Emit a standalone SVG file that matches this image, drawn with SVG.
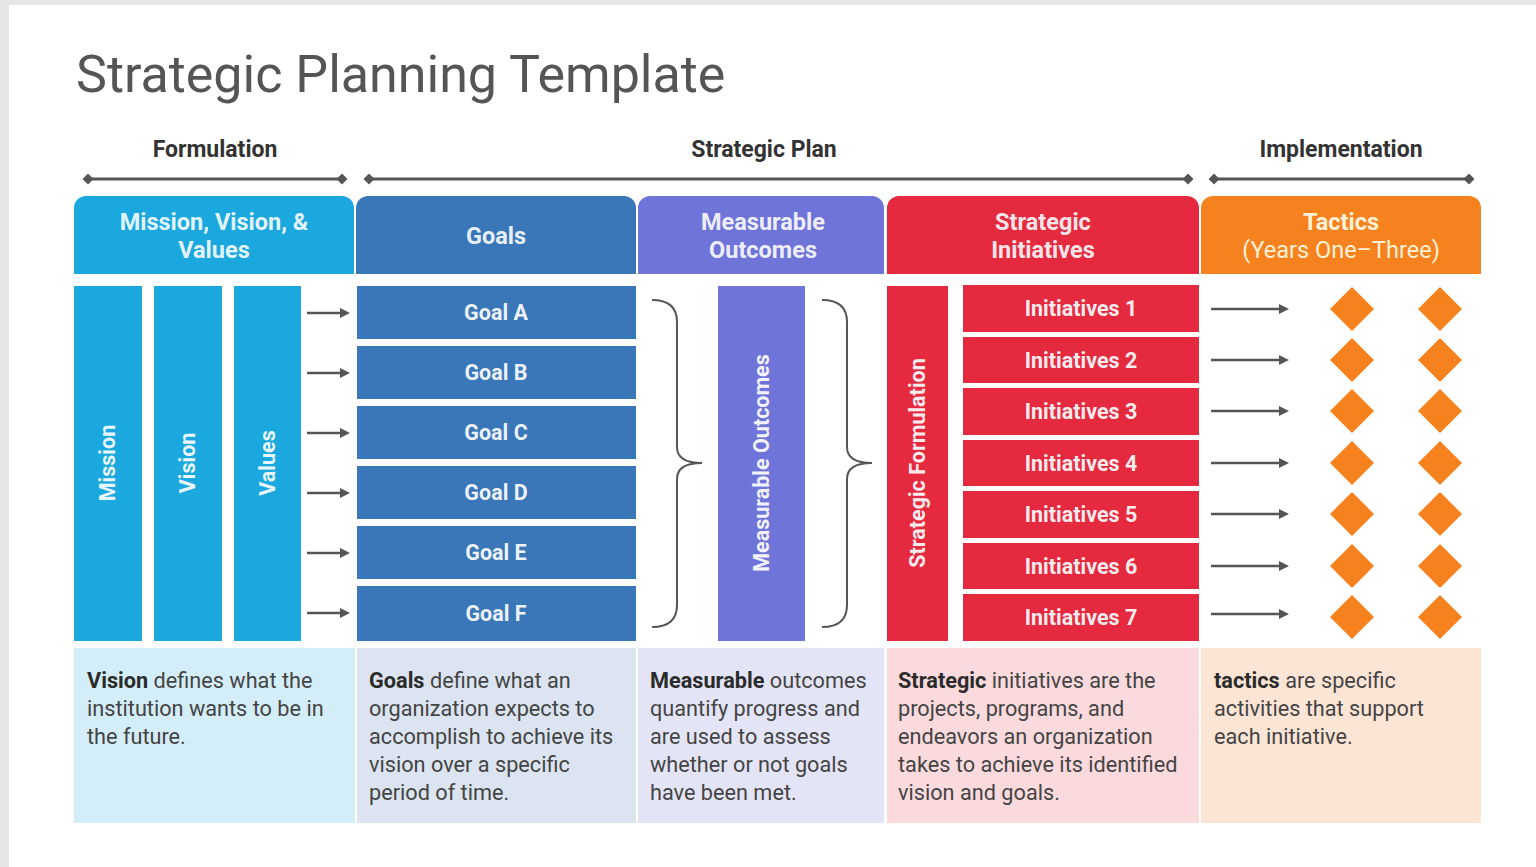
<svg xmlns="http://www.w3.org/2000/svg" width="1536" height="867" viewBox="0 0 1536 867">
  <style>
    .title { font-family: Roboto, "Liberation Sans", sans-serif; font-size: 52px; fill: #555555; }
    .phase { font-family: Roboto, "Liberation Sans", sans-serif; font-size: 23px; font-weight: bold; fill: #333333; text-anchor: middle; }
    .head { font-family: Roboto, "Liberation Sans", sans-serif; font-size: 23.5px; font-weight: bold; fill: #ffffff; fill-opacity: 0.9; text-anchor: middle; }
    .headr { font-family: Roboto, "Liberation Sans", sans-serif; font-size: 23.5px; fill: #fff1d6; text-anchor: middle; }
    .lbl { font-family: Roboto, "Liberation Sans", sans-serif; font-size: 21.5px; font-weight: bold; fill: #ffffff; fill-opacity: 0.92; text-anchor: middle; }
    .desc { font-family: Roboto, "Liberation Sans", sans-serif; font-size: 21.7px; fill: #444444; }
    .desc tspan.b { font-weight: bold; fill: #2b2b2b; }
    .span { stroke: #555555; stroke-width: 3; fill: none; }
    .arrow { stroke: #555555; stroke-width: 2.5; fill: none; marker-end: url(#ah); }
    .brace { stroke: #555555; stroke-width: 2; fill: none; }
    .blue { fill: #1ba8df; }
    .navy { fill: #3a77b8; }
    .violet { fill: #6f75d8; }
    .red { fill: #e52a40; }
    .orange { fill: #f5821f; }
  </style>
  <defs>
    <marker id="ah" viewBox="0 0 10 10" refX="2" refY="5" markerWidth="10" markerHeight="10" markerUnits="userSpaceOnUse" orient="auto">
      <path d="M0,0 L10,5 L0,10 Z" fill="#555555"/>
    </marker>
    <marker id="dot" viewBox="0 0 10 10" refX="5" refY="5" markerWidth="11" markerHeight="11" markerUnits="userSpaceOnUse">
      <path d="M5,0 L10,5 L5,10 L0,5 Z" fill="#555555"/>
    </marker>
    <path id="brace" class="brace" d="M652,300 Q677,300 677,322 L677,447 Q677,463 702,463 Q677,463 677,479 L677,605 Q677,627 652,627"/>
    <path id="dia" d="M0,-22 L22,0 L0,22 L-22,0 Z"/>
  </defs>

  <!-- page background and slide -->
  <rect width="1536" height="867" fill="#e6e6e6"/>
  <rect x="9" y="5" width="1527" height="862" fill="#ffffff"/>

  <text class="title" x="76" y="92">Strategic Planning Template</text>

  <!-- phase labels with span lines -->
  <g id="phases">
    <text class="phase" x="215" y="157">Formulation</text>
    <text class="phase" x="764" y="157">Strategic Plan</text>
    <text class="phase" x="1341" y="157">Implementation</text>
    <line class="span" x1="88" y1="179" x2="342" y2="179" marker-start="url(#dot)" marker-end="url(#dot)"/>
    <line class="span" x1="369" y1="179" x2="1188" y2="179" marker-start="url(#dot)" marker-end="url(#dot)"/>
    <line class="span" x1="1214" y1="179" x2="1469" y2="179" marker-start="url(#dot)" marker-end="url(#dot)"/>
  </g>

  <!-- column headers -->
  <g id="header-mvv">
    <path class="blue" d="M74,274 V208 A12,12 0 0 1 86,196 H342 A12,12 0 0 1 354,208 V274 Z"/>
    <text class="head" x="214" y="230">Mission, Vision, &amp;</text>
    <text class="head" x="214" y="258">Values</text>
  </g>
  <g id="header-goals">
    <path class="navy" d="M356,274 V208 A12,12 0 0 1 368,196 H624 A12,12 0 0 1 636,208 V274 Z"/>
    <text class="head" x="496" y="244">Goals</text>
  </g>
  <g id="header-outcomes">
    <path class="violet" d="M638,274 V208 A12,12 0 0 1 650,196 H872 A12,12 0 0 1 884,208 V274 Z"/>
    <text class="head" x="763" y="230">Measurable</text>
    <text class="head" x="763" y="258">Outcomes</text>
  </g>
  <g id="header-initiatives">
    <path class="red" d="M887,274 V208 A12,12 0 0 1 899,196 H1187 A12,12 0 0 1 1199,208 V274 Z"/>
    <text class="head" x="1043" y="230">Strategic</text>
    <text class="head" x="1043" y="258">Initiatives</text>
  </g>
  <g id="header-tactics">
    <path class="orange" d="M1201,274 V208 A12,12 0 0 1 1213,196 H1469 A12,12 0 0 1 1481,208 V274 Z"/>
    <text class="head" x="1341" y="230" style="fill:#fff1d6;fill-opacity:1">Tactics</text>
    <text class="headr" x="1341" y="258">(Years One–Three)</text>
  </g>

  <!-- mission / vision / values pillars -->
  <g id="pillars">
    <rect class="blue" x="74" y="286" width="68" height="355"/>
    <rect class="blue" x="154" y="286" width="68" height="355"/>
    <rect class="blue" x="234" y="286" width="67" height="355"/>
    <text class="lbl" transform="translate(108,463) rotate(-90)" y="7">Mission</text>
    <text class="lbl" transform="translate(188,463) rotate(-90)" y="7">Vision</text>
    <text class="lbl" transform="translate(268,463) rotate(-90)" y="7">Values</text>
  </g>

  <!-- goals -->
  <g id="goals">
    <rect class="navy" x="357" y="286" width="279" height="53"/>
    <rect class="navy" x="357" y="346" width="279" height="53"/>
    <rect class="navy" x="357" y="406" width="279" height="53"/>
    <rect class="navy" x="357" y="466" width="279" height="53"/>
    <rect class="navy" x="357" y="526" width="279" height="53"/>
    <rect class="navy" x="357" y="586" width="279" height="55"/>
    <text class="lbl" x="496" y="320">Goal A</text>
    <text class="lbl" x="496" y="380">Goal B</text>
    <text class="lbl" x="496" y="440">Goal C</text>
    <text class="lbl" x="496" y="500">Goal D</text>
    <text class="lbl" x="496" y="560">Goal E</text>
    <text class="lbl" x="496" y="621">Goal F</text>
  </g>

  <!-- measurable outcomes -->
  <g id="outcomes">
    <rect class="violet" x="718" y="286" width="87" height="355"/>
    <text class="lbl" transform="translate(762,463) rotate(-90)" y="7">Measurable Outcomes</text>
  </g>

  <!-- strategic initiatives -->
  <g id="initiatives">
    <rect class="red" x="887" y="286" width="61" height="355"/>
    <text class="lbl" transform="translate(918,463) rotate(-90)" y="7">Strategic Formulation</text>
    <rect class="red" x="963" y="285" width="236" height="47"/>
    <rect class="red" x="963" y="337" width="236" height="46"/>
    <rect class="red" x="963" y="388" width="236" height="47"/>
    <rect class="red" x="963" y="440" width="236" height="46"/>
    <rect class="red" x="963" y="491" width="236" height="47"/>
    <rect class="red" x="963" y="543" width="236" height="46"/>
    <rect class="red" x="963" y="594" width="236" height="47"/>
    <text class="lbl" x="1081" y="316">Initiatives 1</text>
    <text class="lbl" x="1081" y="368">Initiatives 2</text>
    <text class="lbl" x="1081" y="419">Initiatives 3</text>
    <text class="lbl" x="1081" y="471">Initiatives 4</text>
    <text class="lbl" x="1081" y="522">Initiatives 5</text>
    <text class="lbl" x="1081" y="574">Initiatives 6</text>
    <text class="lbl" x="1081" y="625">Initiatives 7</text>
  </g>

  <!-- tactics markers -->
  <g id="tactics" class="orange">
    <use href="#dia" x="1352" y="309"/>
    <use href="#dia" x="1352" y="360"/>
    <use href="#dia" x="1352" y="411"/>
    <use href="#dia" x="1352" y="463"/>
    <use href="#dia" x="1352" y="514"/>
    <use href="#dia" x="1352" y="566"/>
    <use href="#dia" x="1352" y="617"/>
    <use href="#dia" x="1440" y="309"/>
    <use href="#dia" x="1440" y="360"/>
    <use href="#dia" x="1440" y="411"/>
    <use href="#dia" x="1440" y="463"/>
    <use href="#dia" x="1440" y="514"/>
    <use href="#dia" x="1440" y="566"/>
    <use href="#dia" x="1440" y="617"/>
  </g>

  <!-- connectors -->
  <g id="connectors">
    <line class="arrow" x1="307" y1="313" x2="342" y2="313"/>
    <line class="arrow" x1="307" y1="373" x2="342" y2="373"/>
    <line class="arrow" x1="307" y1="433" x2="342" y2="433"/>
    <line class="arrow" x1="307" y1="493" x2="342" y2="493"/>
    <line class="arrow" x1="307" y1="553" x2="342" y2="553"/>
    <line class="arrow" x1="307" y1="613" x2="342" y2="613"/>
    <use href="#brace"/>
    <use href="#brace" x="170"/>
    <line class="arrow" x1="1211" y1="309" x2="1281" y2="309"/>
    <line class="arrow" x1="1211" y1="360" x2="1281" y2="360"/>
    <line class="arrow" x1="1211" y1="411" x2="1281" y2="411"/>
    <line class="arrow" x1="1211" y1="463" x2="1281" y2="463"/>
    <line class="arrow" x1="1211" y1="514" x2="1281" y2="514"/>
    <line class="arrow" x1="1211" y1="566" x2="1281" y2="566"/>
    <line class="arrow" x1="1211" y1="614" x2="1281" y2="614"/>
  </g>

  <!-- descriptions -->
  <g id="desc-mvv">
    <rect x="74" y="648" width="281" height="175" fill="#d3eef8"/>
    <text class="desc" x="87" y="688"><tspan class="b">Vision</tspan> defines what the</text>
    <text class="desc" x="87" y="716">institution wants to be in</text>
    <text class="desc" x="87" y="744">the future.</text>
  </g>
  <g id="desc-goals">
    <rect x="357" y="648" width="279" height="175" fill="#dbe4f0"/>
    <text class="desc" x="369" y="688"><tspan class="b">Goals</tspan> define what an</text>
    <text class="desc" x="369" y="716">organization expects to</text>
    <text class="desc" x="369" y="744">accomplish to achieve its</text>
    <text class="desc" x="369" y="772">vision over a specific</text>
    <text class="desc" x="369" y="800">period of time.</text>
  </g>
  <g id="desc-outcomes">
    <rect x="638" y="648" width="246" height="175" fill="#e4e4f7"/>
    <text class="desc" x="650" y="688"><tspan class="b">Measurable</tspan> outcomes</text>
    <text class="desc" x="650" y="716">quantify progress and</text>
    <text class="desc" x="650" y="744">are used to assess</text>
    <text class="desc" x="650" y="772">whether or not goals</text>
    <text class="desc" x="650" y="800">have been met.</text>
  </g>
  <g id="desc-initiatives">
    <rect x="887" y="648" width="312" height="175" fill="#fbdadd"/>
    <text class="desc" x="898" y="688"><tspan class="b">Strategic</tspan> initiatives are the</text>
    <text class="desc" x="898" y="716">projects, programs, and</text>
    <text class="desc" x="898" y="744">endeavors an organization</text>
    <text class="desc" x="898" y="772">takes to achieve its identified</text>
    <text class="desc" x="898" y="800">vision and goals.</text>
  </g>
  <g id="desc-tactics">
    <rect x="1201" y="648" width="280" height="175" fill="#fde5d6"/>
    <text class="desc" x="1214" y="688"><tspan class="b">tactics</tspan> are specific</text>
    <text class="desc" x="1214" y="716">activities that support</text>
    <text class="desc" x="1214" y="744">each initiative.</text>
  </g>
</svg>
